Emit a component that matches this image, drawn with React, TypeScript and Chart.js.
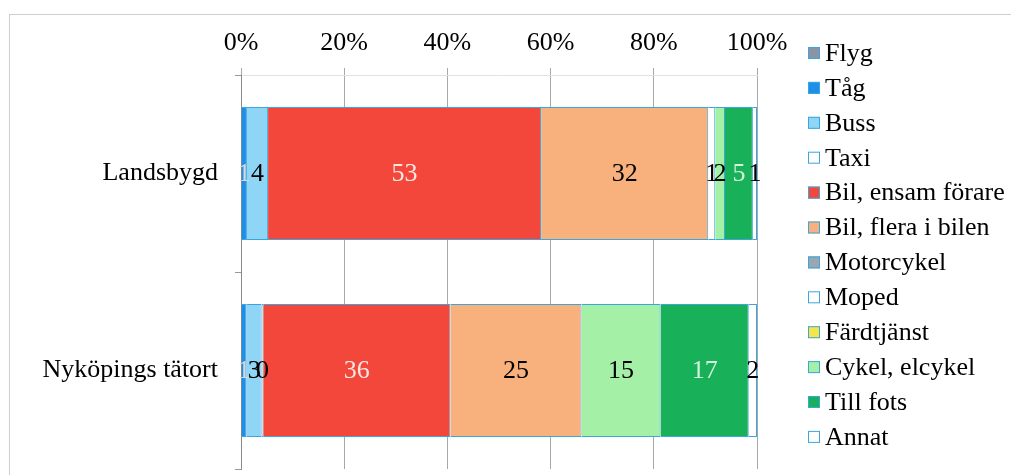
import { useEffect, useRef } from "react";
import { Chart, registerables } from "chart.js";

Chart.register(...registerables);

// ---- data ----
const categories = ["Landsbygd", "Nyköpings tätort"];
const seriesNames = [
  "Flyg",
  "Tåg",
  "Buss",
  "Taxi",
  "Bil, ensam förare",
  "Bil, flera i bilen",
  "Motorcykel",
  "Moped",
  "Färdtjänst",
  "Cykel, elcykel",
  "Till fots",
  "Annat",
];
const flyg = [null, null];
const tag = [1.15, 1.1];
const buss = [4.1, 2.9];
const taxi = [null, 0.3];
const bilEnsam = [52.9, 36.3];
const bilFlera = [32.4, 25.4];
const motorcykel = [null, null];
const moped = [1.35, null];
const fardtjanst = [null, null];
const cykel = [1.9, 15.3];
const tillFots = [5.4, 17.1];
const annat = [0.8, 1.6];
const xTicks = [0, 20, 40, 60, 80, 100];

const seriesValues = [
  flyg, tag, buss, taxi, bilEnsam, bilFlera, motorcykel, moped, fardtjanst, cykel, tillFots, annat,
];

// ---- styles ----
const fillColors = [
  "#8a94a6", "#1e8fe8", "#8fd6f6", "#ffffff", "#f2473a", "#f8b07c",
  "#9aa6b2", "#ffffff", "#f3e64a", "#a3f0a6", "#18b058", "#ffffff",
];
const labelColors = [
  "#000", "#d8d8d8", "#000", "#000", "#f8e8e2", "#000",
  "#000", "#000", "#000", "#000", "#d3f2db", "#000",
];
const edgeColor = "#3aa6de";
const FAMILY = '"Times New Roman", "Liberation Serif", "DejaVu Serif", Times, serif';
const SIZE = 26;

const valueLabels = {
  id: "valueLabels",
  afterDatasetsDraw(chart: any) {
    const ctx = chart.ctx;
    ctx.save();
    ctx.font = `${SIZE}px ${FAMILY}`;
    ctx.textAlign = "center";
    ctx.textBaseline = "middle";
    chart.data.datasets.forEach((ds: any, di: number) => {
      const meta = chart.getDatasetMeta(di);
      meta.data.forEach((el: any, i: number) => {
        const v = ds.data[i];
        if (v === null || v === undefined) return;
        const c = el.getCenterPoint();
        ctx.fillStyle = labelColors[di];
        ctx.fillText(String(Math.round(v)), c.x, c.y + 1);
      });
    });
    ctx.restore();
  },
};

const sideLegend = {
  id: "sideLegend",
  afterDraw(chart: any) {
    const ctx = chart.ctx;
    const x0 = chart.chartArea.right + 51;
    const top = 53;
    const step = 34.9;
    ctx.save();
    ctx.font = `${SIZE}px ${FAMILY}`;
    ctx.textAlign = "left";
    ctx.textBaseline = "middle";
    chart.data.datasets.forEach((ds: any, i: number) => {
      const y = top + i * step;
      ctx.fillStyle = ds.backgroundColor;
      ctx.fillRect(x0, y - 6, 12, 12);
      ctx.strokeStyle = edgeColor;
      ctx.lineWidth = 1;
      ctx.strokeRect(x0 + 0.5, y - 5.5, 11, 11);
      ctx.fillStyle = "#000";
      ctx.fillText(ds.label, x0 + 17, y + 1);
    });
    ctx.restore();
  },
};

export default function App() {
  const ref = useRef<HTMLCanvasElement | null>(null);

  useEffect(() => {
    let chart: any = null;
    let cancelled = false;
    const build = () => {
      if (cancelled || !ref.current) return;
      chart = new Chart(ref.current, {
        type: "bar",
        data: {
          labels: categories,
          datasets: seriesNames.map((name, i) => ({
            label: name,
            data: seriesValues[i],
            backgroundColor: fillColors[i],
            borderColor: edgeColor,
            borderWidth: 1,
            categoryPercentage: 1,
            barPercentage: 0.675,
          })),
        },
        options: {
          indexAxis: "y",
          animation: false,
          responsive: false,
          maintainAspectRatio: false,
          font: { family: FAMILY, size: SIZE },
          layout: { padding: { left: 0, right: 254, top: 0, bottom: 6 } },
          plugins: {
            legend: { display: false },
            tooltip: { enabled: false },
          },
          scales: {
            x: {
              type: "linear",
              position: "top",
              stacked: true,
              min: 0,
              max: 100,
              afterBuildTicks: (scale: any) => {
                scale.ticks = xTicks.map((v) => ({ value: v }));
              },
              afterFit: (scale: any) => {
                scale.height = 75;
                scale.paddingLeft = 0;
                scale.paddingRight = 0;
              },
              ticks: {
                color: "#000",
                font: { family: FAMILY, size: SIZE },
                padding: 9,
                callback: (v: any) => `${v}%`,
              },
              grid: { color: "#a8a8a8", lineWidth: 1, tickLength: 7 },
              border: { display: true, color: "#e2e2e2" },
            },
            y: {
              type: "category",
              stacked: true,
              afterFit: (scale: any) => {
                scale.width = 241;
                scale.paddingTop = 0;
                scale.paddingBottom = 0;
              },
              ticks: {
                color: "#000",
                font: { family: FAMILY, size: SIZE },
                padding: 17,
              },
              grid: { drawOnChartArea: false, color: "#999", tickLength: 6 },
              border: { display: true, color: "#8a8a8a" },
            },
          },
        },
        plugins: [valueLabels, sideLegend],
      } as any);
    };
    const fonts: any = (document as any).fonts;
    if (fonts && fonts.load) {
      Promise.all([
        fonts.load(`${SIZE}px "Liberation Serif"`),
        fonts.load(`${SIZE}px "DejaVu Serif"`),
      ]).then(build, build);
    } else {
      build();
    }
    return () => {
      cancelled = true;
      if (chart) chart.destroy();
    };
  }, []);

  return (
    <div style={{ position: "fixed", left: 0, top: 0, width: 1011, height: 475, overflow: "hidden", background: "#fff" }}>
      <div
        style={{
          position: "absolute",
          left: 9,
          top: 14,
          width: 1100,
          height: 600,
          borderLeft: "1px solid #cfcfcf",
          borderTop: "1px solid #cfcfcf",
        }}
      />
      <canvas ref={ref} width={1011} height={475} style={{ position: "absolute", left: 0, top: 0 }} />
    </div>
  );
}
